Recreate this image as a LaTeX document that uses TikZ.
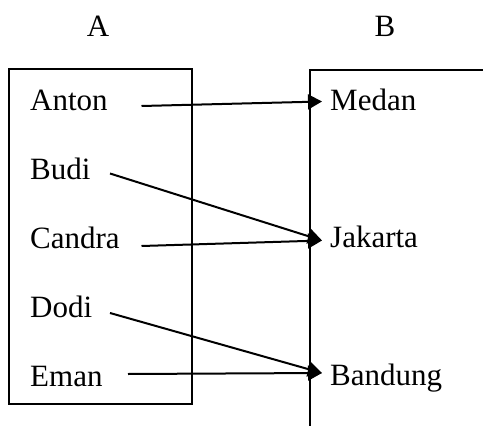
\documentclass[tikz,border=0pt]{standalone}
\usepackage{fontspec}
\setmainfont{Liberation Serif}
\usetikzlibrary{arrows.meta}
\begin{document}
\begin{tikzpicture}[x=1pt,y=-1pt,
  lbl/.style={anchor=base west,inner sep=0pt,font=\fontsize{31}{36}\selectfont},
  ttl/.style={anchor=base,inner sep=0pt,font=\fontsize{31}{36}\selectfont},
  frame/.style={line width=1.3pt},
  link/.style={line width=2pt,-{Triangle[length=14pt,width=15pt]}}]
\useasboundingbox (0,0) rectangle (483,426);
% titles
\node[ttl] (tA) at (98,36) {A};
\node[ttl] (tB) at (385,36) {B};
% frames
\draw[frame] (9,69) rectangle (192,404);
\draw[frame] (483,70) -- (310,70) -- (310,426);
% left names
\node[lbl] (anton) at (30,110) {Anton};
\node[lbl] (budi) at (30,179) {Budi};
\node[lbl] (candra) at (30,248) {Candra};
\node[lbl] (dodi) at (30,317) {Dodi};
\node[lbl] (eman) at (30,386) {Eman};
% right cities
\node[lbl] (medan) at (330,110) {Medan};
\node[lbl] (jakarta) at (330,247) {Jakarta};
\node[lbl] (bandung) at (330,385) {Bandung};
% arrow start points
\coordinate (sA) at (141.5,106);
\coordinate (sB) at (110,173.5);
\coordinate (sC) at (141.5,246);
\coordinate (sD) at (110,313);
\coordinate (sE) at (128,374);
% arrow tips
\coordinate (eM) at (322,101.5);
\coordinate (eJ) at (322,240.5);
\coordinate (eB) at (322,373);
\draw[link] (sA) -- (eM);
\draw[link] (sB) -- (eJ);
\draw[link] (sC) -- (eJ);
\draw[link] (sD) -- (eB);
\draw[link] (sE) -- (eB);
\end{tikzpicture}
\end{document}
